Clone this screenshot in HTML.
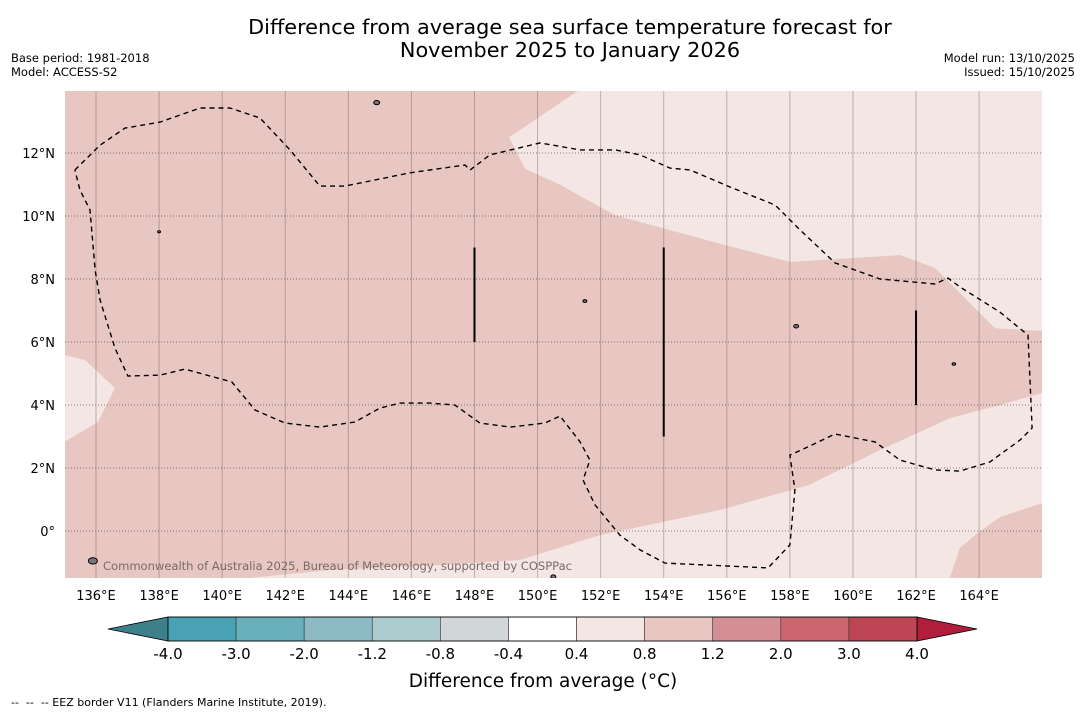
<!DOCTYPE html>
<html><head><meta charset="utf-8"><style>
body{margin:0;background:#fff;font-family:"Liberation Sans","DejaVu Sans",sans-serif}
svg{display:block}
</style></head><body>
<svg id="c" width="1085" height="713" xmlns="http://www.w3.org/2000/svg">
<text x="570" y="34" text-anchor="middle" font-size="20.8" font-family="DejaVu Sans,sans-serif">Difference from average sea surface temperature forecast for</text>
<text x="570" y="57" text-anchor="middle" font-size="20.8" font-family="DejaVu Sans,sans-serif">November 2025 to January 2026</text>
<text x="11" y="62" font-size="11.5" font-family="DejaVu Sans,sans-serif">Base period: 1981-2018</text>
<text x="11" y="76" font-size="11.5" font-family="DejaVu Sans,sans-serif">Model: ACCESS-S2</text>
<text x="1075" y="62" text-anchor="end" font-size="11.5" font-family="DejaVu Sans,sans-serif">Model run: 13/10/2025</text>
<text x="1075" y="76" text-anchor="end" font-size="11.5" font-family="DejaVu Sans,sans-serif">Issued: 15/10/2025</text>
<g id="map"></g>
<g id="cb"></g>
<text x="543" y="687" text-anchor="middle" font-size="18.5" font-family="DejaVu Sans,sans-serif">Difference from average (°C)</text>
<text x="11" y="706" font-size="11" font-family="DejaVu Sans,sans-serif" style="white-space:pre" xml:space="preserve">--  --  -- EEZ border V11 (Flanders Marine Institute, 2019).</text>
</svg>
<script>
const lonTicks=[136,138,140,142,144,146,148,150,152,154,156,158,160,162,164];
const latTicks=[0,2,4,6,8,10,12];
const cbLevels=["-4.0","-3.0","-2.0","-1.2","-0.8","-0.4","0.4","0.8","1.2","2.0","3.0","4.0"];
const cbColors=["#48a2b3","#68aebb","#8bbac4","#abcbcf","#d1d6d8","#ffffff","#f4e6e3","#e8c7c2","#d58e95","#cb6670","#bd4554"];
const lightTop=[[151.28,13.97],[149.1,12.5],[149.6,11.5],[150.7,11.0],[152.45,10.03],[155.6,9.17],[158.0,8.54],[161.5,8.76],[162.6,8.35],[164.5,6.44],[166,6.35],[166,13.97]];
const lightLeft=[[135,5.59],[135.65,5.43],[136.6,4.54],[136.06,3.46],[135,2.83]];
const lightBottom=[[140.88,-1.49],[143.4,-1.24],[146.9,-1.08],[149.44,-0.92],[151.98,-0.13],[155.8,0.67],[158.6,1.46],[160.86,2.57],[163.1,3.59],[164.66,4.0],[166,4.38],[166,0.89],[164.66,0.44],[163.87,-0.13],[163.39,-0.54],[163.07,-1.49]];
const eez=[[135.33,11.46],[136.13,12.25],[136.92,12.79],[138.03,12.98],[139.3,13.43],[140.25,13.43],[141.2,13.11],[142.15,12.1],[143.1,10.95],[143.89,10.95],[145.96,11.37],[147.7,11.62],[147.86,11.46],[148.49,11.94],[150.08,12.32],[151.35,12.1],[152.46,12.1],[153.25,11.94],[154.2,11.52],[154.84,11.46],[156.1,10.92],[157.53,10.35],[158.32,9.56],[159.43,8.51],[160.86,8.0],[162.6,7.84],[163.01,8.03],[163.39,7.75],[164.66,6.95],[165.55,6.22],[165.68,3.27],[165.3,2.89],[164.34,2.19],[163.39,1.9],[162.6,1.94],[161.49,2.25],[160.7,2.83],[159.43,3.08],[158.64,2.7],[158.0,2.41],[158.16,1.3],[158.0,-0.44],[157.31,-1.17],[154.04,-1.02],[153.25,-0.6],[152.61,-0.13],[151.82,0.83],[151.44,1.62],[151.66,2.25],[151.35,2.83],[150.71,3.65],[150.24,3.43],[149.13,3.3],[148.17,3.43],[147.38,4.0],[146.59,4.06],[145.64,4.06],[145.0,3.9],[144.21,3.46],[143.1,3.3],[141.99,3.43],[141.04,3.84],[140.31,4.73],[140.09,4.79],[138.82,5.14],[138.03,4.95],[137.01,4.92],[136.6,5.81],[136.13,7.33],[135.97,8.29],[135.81,10.19],[135.49,10.83],[135.33,11.46]];
const segLon=[148,154,162];
const segLat0=[6,3,4];
const segLat1=[9,9,7];
const islands=[[144.9,13.6,3],[138.0,9.5,1.5],[151.5,7.3,2],[158.2,6.5,2.5],[163.2,5.3,1.8],[135.9,-0.95,4.5],[150.5,-1.45,2.5]];
const X=lon=>96+(lon-136)*31.54, Y=lat=>531-lat*31.5;
const NS="http://www.w3.org/2000/svg";
function mk(t,a,p){const e=document.createElementNS(NS,t);for(const k in a)e.setAttribute(k,a[k]);p.appendChild(e);return e;}
const m=document.getElementById('map');
const bg=mk('rect',{x:65,y:91,width:977,height:487,fill:'#e8c7c2'},m);


const clip=mk('clipPath',{id:'cp'},m);mk('rect',{x:65,y:91,width:977,height:487},clip);
const g=mk('g',{'clip-path':'url(#cp)'},m);
const pts=a=>a.map(p=>X(p[0]).toFixed(1)+','+Y(p[1]).toFixed(1)).join(' ');
[[lightTop,'light-region-north'],[lightLeft,'light-region-west'],[lightBottom,'light-region-south']].forEach(([a,n])=>{
 const p=mk('polygon',{points:pts(a),fill:'#f4e6e3'},g);
 
 
});
lonTicks.forEach(l=>{
 const ln=mk('line',{x1:X(l),x2:X(l),y1:91,y2:578,stroke:'rgba(90,70,70,0.35)','stroke-width':1},g);
 
 
 const t=mk('text',{x:X(l),y:600,'text-anchor':'middle','font-size':13,'font-family':'DejaVu Sans,sans-serif'},m);t.textContent=l+'°E';
 
 
});
latTicks.forEach(l=>{
 const ln=mk('line',{x1:65,x2:1042,y1:Y(l),y2:Y(l),stroke:'rgba(60,50,50,0.6)','stroke-width':1,'stroke-dasharray':'1,2'},g);
 
 
 const t=mk('text',{x:55,y:Y(l)+5,'text-anchor':'end','font-size':13,'font-family':'DejaVu Sans,sans-serif'},m);t.textContent=l===0?'0°':l+'°N';
 
 
});
const ez=mk('polyline',{points:pts(eez),fill:'none',stroke:'#000','stroke-width':1.4,'stroke-dasharray':'5,4'},g);


segLon.forEach((l,i)=>{
 const s=mk('line',{x1:X(l),x2:X(l),y1:Y(segLat0[i]),y2:Y(segLat1[i]),stroke:'#000','stroke-width':2},g);
 
 
});
islands.forEach(p=>{
 const c=mk('ellipse',{cx:X(p[0]),cy:Y(p[1]),rx:p[2],ry:p[2]*0.7,fill:'#777',stroke:'#000','stroke-width':1},g);
 
 
});
const cr=mk('text',{x:103,y:570,'font-size':11.6,fill:'#7a6a6a','font-family':'DejaVu Sans,sans-serif','textLength':469},g);cr.textContent='Commonwealth of Australia 2025, Bureau of Meteorology, supported by COSPPac';


// colorbar
const cb=document.getElementById('cb');const x0=168,x1=917,y0=617,y1=641,w=(x1-x0)/cbColors.length;
const la=mk('polygon',{points:`108,629 ${x0},${y0} ${x0},${y1}`,fill:'#3e808a',stroke:'#000','stroke-width':0.8},cb);


const ra=mk('polygon',{points:`977,629 ${x1},${y0} ${x1},${y1}`,fill:'#b01e3c',stroke:'#000','stroke-width':0.8},cb);


cbColors.forEach((c,i)=>{
 const r=mk('rect',{x:x0+i*w,y:y0,width:w,height:y1-y0,fill:c,stroke:'#333','stroke-width':0.6},cb);
 
 
});
mk('rect',{x:x0,y:y0,width:x1-x0,height:y1-y0,fill:'none',stroke:'#000','stroke-width':0.8},cb);
cbLevels.forEach((l,i)=>{
 const t=mk('text',{x:x0+i*w,y:659,'text-anchor':'middle','font-size':15,'font-family':'DejaVu Sans,sans-serif'},cb);t.textContent=l;
 
 
});
</script>
</body></html>
